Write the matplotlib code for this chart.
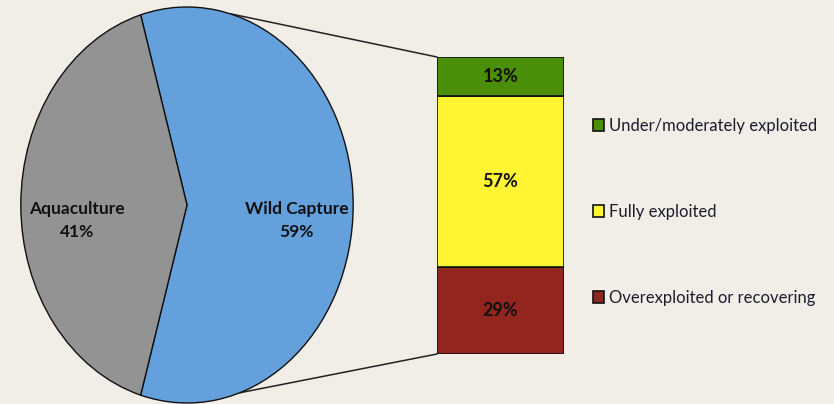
import matplotlib.pyplot as plt
from matplotlib.patches import ConnectionPatch
import numpy as np

# pie data
pie_labels = ["Wild Capture", "Aquaculture"]
pie_values = [59, 41]
pie_colors = ["#64a0dc", "#939393"]

# bar (breakdown of wild capture), bottom to top
bar_labels = ["Overexploited or recovering", "Fully exploited", "Under/moderately exploited"]
bar_values = [29, 57, 13]
bar_colors = ["#92261f", "#fff533", "#4b8e0a"]

bg = "#f1eee8"
plt.rcParams["font.family"] = ["Lato", "DejaVu Sans"]

W, H = 834, 404
fig = plt.figure(figsize=(W / 100, H / 100), dpi=100, facecolor=bg)


def px_axes(left, top, right, bottom):
    return fig.add_axes([left / W, 1 - bottom / H, (right - left) / W, (bottom - top) / H])


# pie drawn in a non-square axes so it comes out as an ellipse
ax_pie = px_axes(20, 6, 354, 404)
ax_pie.set_facecolor("none")
start = -pie_values[0] / sum(pie_values) * 180
wedges, texts = ax_pie.pie(
    pie_values,
    colors=pie_colors,
    startangle=start,
    counterclock=True,
    radius=1,
    labels=[f"{l}\n{v}%" for l, v in zip(pie_labels, pie_values)],
    labeldistance=0.66,
    wedgeprops=dict(edgecolor="#111111", linewidth=1),
    textprops=dict(fontsize=12.5, fontweight="bold", ha="center", va="center",
                   color="#111111", linespacing=1.55),
)
for t in texts:
    t.set_y(t.get_position()[1] - 0.08)
    t.set_horizontalalignment("center")
ax_pie.set_aspect("auto")
ax_pie.set_xlim(-1.005, 1.005)
ax_pie.set_ylim(-1.005, 1.005)
ax_pie.axis("off")

# stacked bar
ax_bar = px_axes(437, 57, 564, 354)
ax_bar.set_facecolor("none")
bottom = 0
bars = []
for lab, val, col in zip(bar_labels, bar_values, bar_colors):
    b = ax_bar.bar(0, val, width=1, bottom=bottom, color=col, edgecolor="#111111",
                   linewidth=1.2, label=lab)
    ax_bar.bar_label(b, labels=[f"{val}%"], label_type="center", fontsize=13,
                     fontweight="bold", color="#111111")
    bars.append(b)
    bottom += val
ax_bar.set_xlim(-0.5, 0.5)
ax_bar.set_ylim(0, sum(bar_values))
ax_bar.axis("off")

# connecting lines
total = sum(bar_values)
for theta, yb in [(75, total), (-71.5, 0)]:
    con = ConnectionPatch(
        xyA=(np.cos(np.radians(theta)), np.sin(np.radians(theta))), coordsA=ax_pie.transData,
        xyB=(-0.5, yb), coordsB=ax_bar.transData,
        color="#222222", linewidth=1.1,
    )
    con.set_zorder(0)
    fig.add_artist(con)
for w in wedges:
    w.set_zorder(3)

# legend
handles = [b[0] for b in bars][::-1]
labels = bar_labels[::-1]
fig.legend(
    handles, labels,
    loc="center left", bbox_to_anchor=(593 / W, 1 - 212 / H),
    frameon=False, fontsize=12, borderpad=0, borderaxespad=0,
    handlelength=0.68, handleheight=0.68, handletextpad=0.3,
    labelspacing=4.2, labelcolor="#1c1c2c",
)

fig.savefig("out.png", dpi=100, facecolor=bg)
